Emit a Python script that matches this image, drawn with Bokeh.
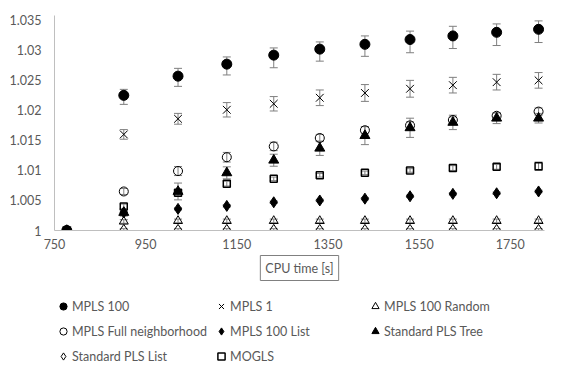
from bokeh.plotting import figure
from bokeh.layouts import column
from bokeh.models import (ColumnDataSource, Whisker, TeeHead, Legend, LegendItem,
                          Title, FixedTicker, NumeralTickFormatter, Range1d)
from bokeh.embed import file_html
from bokeh.resources import INLINE

# ---------------- data ----------------
cpu_time = [777, 902, 1021, 1128, 1231, 1332, 1431, 1530, 1624, 1720, 1812]

mpls100 = [1.0, 1.0225, 1.0257, 1.0277, 1.0292, 1.0302, 1.0310, 1.0318, 1.0324, 1.0330, 1.0335]
mpls100_up = [0, 0.0010, 0.0013, 0.0012, 0.0012, 0.0012, 0.0014, 0.0014, 0.0016, 0.0014, 0.0014]
mpls100_dn = [0, 0.0015, 0.0017, 0.0018, 0.0021, 0.0020, 0.0020, 0.0022, 0.0021, 0.0022, 0.0022]

mpls1 = [1.0, 1.0160, 1.0186, 1.0201, 1.0211, 1.0221, 1.0229, 1.0236, 1.0242, 1.0247, 1.0250]
mpls1_err = [0, 0.0008, 0.0009, 0.0012, 0.0012, 0.0013, 0.0014, 0.0014, 0.0013, 0.0013, 0.0013]

mpls100_random = [1.0, 1.0015, 1.0016, 1.0016, 1.0016, 1.0016, 1.0016, 1.0016, 1.0016, 1.0016, 1.0016]
mpls100_random_err = [0, 0.0003, 0.0003, 0.0003, 0.0003, 0.0003, 0.0003, 0.0003, 0.0003, 0.0003, 0.0003]

mpls_full = [1.0, 1.0065, 1.0099, 1.0122, 1.0140, 1.0154, 1.0167, 1.0175, 1.0184, 1.0191, 1.0198]
mpls_full_err = [0, 0.0005, 0.00075, 0.0008, 0.0007, 0.0006, 0.0006, 0.0006, 0.0005, 0.0005, 0.0006]

mpls100_list = [1.0, 1.0030, 1.0036, 1.0041, 1.0047, 1.0050, 1.0053, 1.0057, 1.0061, 1.0062, 1.0065]
mpls100_list_err = [0, 0.0002, 0.0002, 0.0002, 0.0002, 0.0002, 0.0002, 0.0002, 0.0002, 0.0002, 0.0002]

pls_tree = [1.0, 1.0030, 1.0065, 1.0096, 1.0117, 1.0137, 1.0158, 1.0171, 1.0180, 1.0187, 1.0187]
pls_tree_err = [0, 0.0006, 0.0014, 0.0010, 0.0010, 0.0012, 0.0015, 0.0016, 0.0012, 0.0009, 0.0008]

pls_list = [1.0, 1.0001, 1.0001, 1.0001, 1.0001, 1.0001, 1.0001, 1.0001, 1.0001, 1.0001, 1.0001]
pls_list_err = [0, 0.0002, 0.0002, 0.0002, 0.0002, 0.0002, 0.0002, 0.0002, 0.0002, 0.0002, 0.0002]

mogls = [1.0, 1.0040, 1.0063, 1.0078, 1.0086, 1.0092, 1.0096, 1.0100, 1.0104, 1.0106, 1.0107]
mogls_err = [0, 0.0004, 0.0004, 0.0004, 0.0003, 0.0003, 0.0003, 0.0003, 0.0004, 0.0004, 0.0007]

x_ticks = [750, 950, 1150, 1350, 1550, 1750]
y_ticks = [1.0, 1.005, 1.01, 1.015, 1.02, 1.025, 1.03, 1.035]
x_title = "CPU time [s]"

FONT = "Lato"
TXT = "#595959"
FS = "12.5px"

# name, values, err up, err down, marker, size, legend size, fill, line width
series = [
    ("MPLS 100", mpls100, mpls100_up, mpls100_dn, "circle", 10, 8, "black", 1),
    ("MPLS 1", mpls1, mpls1_err, mpls1_err, "x", 11, 10, None, 1),
    ("MPLS 100 Random", mpls100_random, mpls100_random_err, mpls100_random_err, "triangle", 9, 8, None, 1),
    ("MPLS Full neighborhood", mpls_full, mpls_full_err, mpls_full_err, "circle", 9, 7, None, 1),
    ("MPLS 100 List", mpls100_list, mpls100_list_err, mpls100_list_err, "diamond", 11, 9, "black", 1),
    ("Standard PLS Tree", pls_tree, pls_tree_err, pls_tree_err, "triangle", 10, 8, "black", 1),
    ("Standard PLS List", pls_list, pls_list_err, pls_list_err, "diamond", 11, 9, None, 1),
    ("MOGLS", mogls, mogls_err, mogls_err, "square", 7, 7, None, 1.5),
]

# ---------------- main chart ----------------
p = figure(width=565, height=290, output_backend="svg", toolbar_location=None,
           x_range=Range1d(750, 1825), y_range=Range1d(1.0, 1.0358),
           min_border_left=54, min_border_right=21, min_border_top=15, min_border_bottom=60)
p.outline_line_color = None
p.xgrid.visible = False
p.ygrid.visible = False
p.background_fill_color = "white"
p.border_fill_color = "white"

for ax in (p.xaxis[0], p.yaxis[0]):
    ax.axis_line_color = "#bfbfbf"
    ax.major_tick_line_color = None
    ax.minor_tick_line_color = None
    ax.major_tick_out = 0
    ax.major_tick_in = 0
    ax.minor_tick_out = 0
    ax.major_label_text_color = TXT
    ax.major_label_text_font = FONT
    ax.major_label_text_font_size = FS

p.xaxis.ticker = FixedTicker(ticks=x_ticks)
p.yaxis.ticker = FixedTicker(ticks=y_ticks)
p.yaxis.formatter = NumeralTickFormatter(format="0.[000]")
p.xaxis.major_label_standoff = 8
p.yaxis.major_label_standoff = 13

sources = {}
for name, vals, up, dn, marker, size, lsize, fill, lw in series:
    src = ColumnDataSource(dict(
        x=cpu_time, y=vals,
        upper=[v + u for v, u in zip(vals, up)],
        lower=[v - d for v, d in zip(vals, dn)],
    ))
    sources[name] = src
    w = Whisker(source=src, base="x", upper="upper", lower="lower",
                line_color="#7f7f7f", line_width=1, level="underlay",
                upper_head=TeeHead(size=8, line_color="#7f7f7f", line_width=1),
                lower_head=TeeHead(size=8, line_color="#7f7f7f", line_width=1))
    p.add_layout(w)
    p.scatter("x", "y", source=src, marker=marker, size=size,
              fill_color=fill, line_color="black", line_width=lw)

title = Title(text=x_title, align="center", text_font=FONT, text_font_size=FS,
              text_color=TXT, text_font_style="normal",
              border_line_color="#808080", border_line_width=1,
              background_fill_color="white", padding=5, standoff=4)
p.add_layout(title, "below")

# ---------------- legend strip below the chart ----------------
# same series drawn again in a strip whose ranges keep them out of view;
# they serve only as legend keys
q = figure(width=565, height=77, output_backend="svg", toolbar_location=None,
           x_range=Range1d(0, 1), y_range=Range1d(0, 1),
           x_axis_location=None, y_axis_location=None,
           min_border=0, min_border_left=0, min_border_right=0,
           min_border_top=0, min_border_bottom=0)
q.outline_line_color = None
q.xgrid.visible = False
q.ygrid.visible = False
q.border_fill_color = "white"

keys = {}
for name, vals, up, dn, marker, size, lsize, fill, lw in series:
    keys[name] = q.scatter("x", "y", source=sources[name], marker=marker, size=lsize,
                           fill_color=fill, line_color="black", line_width=lw)

order = ["MPLS 100", "MPLS 1", "MPLS 100 Random",
         "MPLS Full neighborhood", "MPLS 100 List", "Standard PLS Tree",
         "Standard PLS List", "MOGLS"]
items = [LegendItem(label=n, renderers=[keys[n]]) for n in order]
lg = Legend(items=items, location=(0, 1), orientation="horizontal", ncols=3,
            glyph_width=18, glyph_height=18, label_height=20, label_width=131,
            label_standoff=0, spacing=5, padding=0, margin=0,
            border_line_color=None, background_fill_alpha=0,
            label_text_font=FONT, label_text_font_size=FS, label_text_color=TXT)
q.add_layout(lg, "center")

layout = column(p, q, spacing=0)
open("out.html", "w").write(file_html(layout, INLINE))
